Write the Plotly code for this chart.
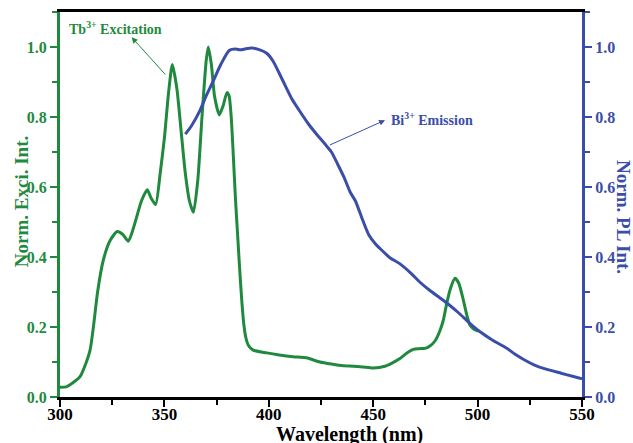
import plotly.graph_objects as go

# Tb3+ excitation (green)
exc_wl = [300, 303, 306, 309.6, 312, 314.4, 316, 318, 320.7, 324, 327.4, 330, 332.7, 334.5, 336.7, 339, 341.8, 343.5, 345.8,
          348, 350, 352, 353.8, 356, 358, 360, 362, 363.9, 366, 368, 370, 371, 372.5, 374, 376.3, 378, 380, 381, 382,
          383, 384, 385, 386, 387, 388, 389, 390.2, 392.5, 399, 405, 411.6, 418, 424.5, 430, 435.7, 440.5, 445, 450,
          455.6, 459, 462.8, 466, 469.2, 472, 474.8, 477, 479.6, 482, 483.6, 485.2, 487, 489.2, 491, 493.2, 495, 496.4,
          498, 500.3]
exc_val = [0.028, 0.029, 0.04, 0.058, 0.09, 0.134, 0.2, 0.30, 0.39, 0.447, 0.473, 0.465, 0.445, 0.47, 0.514, 0.56, 0.592, 0.57, 0.55,
           0.64, 0.74, 0.87, 0.95, 0.88, 0.76, 0.64, 0.56, 0.528, 0.62, 0.80, 0.96, 1.0, 0.95, 0.86, 0.806, 0.83, 0.87, 0.86, 0.80,
           0.69, 0.57, 0.47, 0.37, 0.28, 0.21, 0.17, 0.148, 0.134, 0.126, 0.12, 0.115, 0.112, 0.10, 0.094, 0.089, 0.088, 0.086, 0.083,
           0.088, 0.097, 0.11, 0.125, 0.136, 0.138, 0.139, 0.145, 0.16, 0.19, 0.22, 0.267, 0.31, 0.339, 0.325, 0.276, 0.23, 0.205,
           0.195, 0.188]

# Bi3+ emission (blue)
em_wl = [360, 363, 367, 370, 373.4, 377, 381, 384, 386.5, 389, 392, 395, 399, 402, 405, 408, 411, 415, 419, 423,
         427, 430, 433, 436, 439, 441.5, 445, 448, 451, 454, 458, 462.7, 468, 472, 477, 482, 486, 491, 496,
         501, 507, 514, 518, 522.7, 527, 532, 540, 545, 550]
em_val = [0.751, 0.775, 0.818, 0.86, 0.903, 0.95, 0.99, 0.994, 0.992, 0.995, 0.997, 0.993, 0.982, 0.96, 0.925, 0.888, 0.852,
          0.815, 0.78, 0.75, 0.722, 0.70, 0.665, 0.628, 0.585, 0.56, 0.505, 0.462, 0.438, 0.42, 0.398, 0.381, 0.354, 0.33,
          0.305, 0.283, 0.265, 0.24, 0.212, 0.187, 0.163, 0.139, 0.122, 0.105, 0.092, 0.081, 0.068, 0.06, 0.052]

x_ticks = [300, 350, 400, 450, 500, 550]
y_ticks = [0.0, 0.2, 0.4, 0.6, 0.8, 1.0]
y_ticklabels = ["0.0", "0.2", "0.4", "0.6", "0.8", "1.0"]

GREEN = "#1f8a3e"
BLUE = "#3a4ea8"
FONT = "Liberation Serif"

fig = go.Figure()
fig.add_trace(go.Scatter(x=exc_wl, y=exc_val, mode="lines",
                         line=dict(color=GREEN, width=3, shape="spline", smoothing=0.6),
                         yaxis="y", showlegend=False))
fig.add_trace(go.Scatter(x=em_wl, y=em_val, mode="lines",
                         line=dict(color=BLUE, width=3, shape="spline", smoothing=0.6),
                         yaxis="y2", showlegend=False))

fig.update_layout(
    width=633, height=443,
    margin=dict(l=60, r=51, t=12, b=46, autoexpand=False),
    plot_bgcolor="white", paper_bgcolor="white",
    font=dict(family=FONT),
    xaxis=dict(range=[300, 550], tickvals=x_ticks, ticks="outside", ticklen=7, tickwidth=2,
               tickcolor="black", showline=True, linecolor="black", linewidth=3, mirror=True,
               showgrid=False, zeroline=False, automargin=False, ticklabelstandoff=-7,
               tickfont=dict(family=FONT, size=17, color="black", weight="bold"),
               minor=dict(dtick=25, ticks="outside", ticklen=5, tickwidth=2, tickcolor="black")),
    yaxis=dict(range=[0, 1.1], tickvals=y_ticks, ticktext=y_ticklabels, ticks="outside", ticklen=7, tickwidth=2,
               tickcolor=GREEN, showline=True, linecolor=GREEN, linewidth=3,
               showgrid=False, zeroline=False, automargin=False,
               tickfont=dict(family=FONT, size=16, color=GREEN, weight="bold"),
               minor=dict(dtick=0.1, ticks="outside", ticklen=5, tickwidth=2, tickcolor=GREEN)),
    yaxis2=dict(range=[0, 1.1], tickvals=y_ticks, ticktext=y_ticklabels, ticks="outside", ticklen=7, tickwidth=2,
                tickcolor=BLUE, showline=True, linecolor=BLUE, linewidth=3,
                overlaying="y", side="right", showgrid=False, zeroline=False, automargin=False,
                tickfont=dict(family=FONT, size=16, color=BLUE, weight="bold"),
                minor=dict(dtick=0.1, ticks="outside", ticklen=5, tickwidth=2, tickcolor=BLUE)),
)

annotations = [
    # Axis titles
    dict(text="Wavelength (nm)", xref="paper", yref="paper", x=0.554, y=-0.098,
         showarrow=False, xanchor="center", yanchor="middle",
         font=dict(family=FONT, size=20, color="black", weight="bold")),
    dict(text="Norm. Exci. Int.", xref="paper", yref="paper", x=-0.0747, y=0.506, textangle=-90,
         showarrow=False, xanchor="center", yanchor="middle",
         font=dict(family=FONT, size=19, color=GREEN, weight="bold")),
    dict(text="Norm. PL Int.", xref="paper", yref="paper", x=1.078, y=0.468, textangle=90,
         showarrow=False, xanchor="center", yanchor="middle",
         font=dict(family=FONT, size=19, color=BLUE, weight="bold")),
    # Labels
    dict(text="Tb<sup>3+</sup> Excitation", xref="x", yref="y", x=303.4, y=1.054,
         showarrow=False, xanchor="left", yanchor="middle",
         font=dict(family=FONT, size=14, color=GREEN, weight="bold")),
    dict(text="Bi<sup>3+</sup> Emission", xref="x", yref="y", x=457.6, y=0.795,
         showarrow=False, xanchor="left", yanchor="middle",
         font=dict(family=FONT, size=14, color=BLUE, weight="bold")),
    # Arrows
    dict(text="", xref="x", yref="y", x=334.3, y=1.028, axref="x", ayref="y", ax=351.1, ay=0.917,
         showarrow=True, arrowhead=2, arrowsize=1.2, arrowwidth=1, arrowcolor=GREEN, standoff=0),
    dict(text="", xref="x", yref="y", x=455.7, y=0.791, axref="x", ayref="y", ax=428.5, ay=0.718,
         showarrow=True, arrowhead=2, arrowsize=1.2, arrowwidth=1, arrowcolor=BLUE, standoff=0),
]
fig.update_layout(annotations=annotations)

fig.write_html("out.html")
